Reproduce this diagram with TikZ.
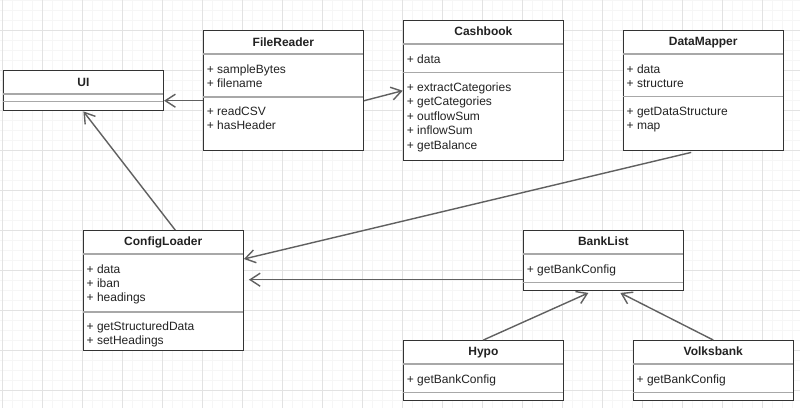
\documentclass[tikz,border=0pt]{standalone}
\usepackage{fontspec}
\setmainfont{Liberation Sans}
\usetikzlibrary{arrows.meta, calc}

\definecolor{gridminor}{HTML}{F6F6F6}
\definecolor{gridmajor}{HTML}{E2E2E2}
\definecolor{linkgray}{HTML}{606060}
\definecolor{sepgray}{HTML}{A8A8A8}
\definecolor{inkgray}{HTML}{222222}

\begin{document}
\begin{tikzpicture}[x=1pt, y=-1pt, >={Straight Barb[length=10pt,width=13pt]},
    classbox/.style={draw=black!80, line width=1.4pt, fill=white, minimum width=160pt, inner sep=0pt, anchor=north west},
    classname/.style={font=\bfseries\fontsize{12}{14}\selectfont, text=inkgray, anchor=base, inner sep=0pt},
    member/.style={font=\fontsize{12}{14}\selectfont, text=inkgray, anchor=base west, inner sep=0pt},
    divider/.style={draw=sepgray, line width=1.3pt, shorten <=0.7pt, shorten >=0.7pt},
    link/.style={->, draw=linkgray, line width=1.4pt}]
    % Canvas and grid
    \useasboundingbox[fill=white] (0,0) rectangle (800,408);
    \foreach \gx in {2.7,12.7,...,800} \draw[gridminor, line width=0.6pt] (\gx,0) -- (\gx,408);
    \foreach \gy in {0,10,...,408} \draw[gridminor, line width=0.6pt] (0,\gy) -- (800,\gy);
    \foreach \gx in {2.7,42.7,...,800} \draw[gridmajor, line width=0.7pt] (\gx,0) -- (\gx,408);
    \foreach \gy in {30,70,...,408} \draw[gridmajor, line width=0.7pt] (0,\gy) -- (800,\gy);

    % UI
    \node[classbox, minimum height=40pt] (ui) at (2.7,70) {};
    \node[classname] (ui-t) at ($(ui.north)+(0,16)$) {UI};
    \draw[divider] ($(ui.north west)+(0,24)$) -- ($(ui.north east)+(0,24)$);
    \draw[divider] ($(ui.north west)+(0,31.7)$) -- ($(ui.north east)+(0,31.7)$);

    % FileReader
    \node[classbox, minimum height=120pt] (fr) at (202.7,30) {};
    \node[classname] (fr-t) at ($(fr.north)+(0,16)$) {FileReader};
    \draw[divider] ($(fr.north west)+(0,24)$) -- ($(fr.north east)+(0,24)$);
    \foreach \m [count=\i] in {sampleBytes, filename}
        \node[member] (fr-a\i) at ($(fr.north west)+(4,{43+14.3*(\i-1)})$) {+ \m};
    \draw[divider] ($(fr.north west)+(0,67)$) -- ($(fr.north east)+(0,67)$);
    \foreach \m [count=\i] in {readCSV, hasHeader}
        \node[member] (fr-o\i) at ($(fr.north west)+(4,{85.5+14.3*(\i-1)})$) {+ \m};

    % Cashbook
    \node[classbox, minimum height=140pt] (cb) at (402.7,20) {};
    \node[classname] (cb-t) at ($(cb.north)+(0,15)$) {Cashbook};
    \draw[divider] ($(cb.north west)+(0,24)$) -- ($(cb.north east)+(0,24)$);
    \node[member] (cb-a1) at ($(cb.north west)+(4,43)$) {+ data};
    \draw[divider] ($(cb.north west)+(0,52.7)$) -- ($(cb.north east)+(0,52.7)$);
    \foreach \m [count=\i] in {extractCategories, getCategories, outflowSum, inflowSum, getBalance}
        \node[member] (cb-o\i) at ($(cb.north west)+(4,{71+14.5*(\i-1)})$) {+ \m};

    % DataMapper
    \node[classbox, minimum height=120pt] (dm) at (622.5,30) {};
    \node[classname] (dm-t) at ($(dm.north)+(0,15)$) {DataMapper};
    \draw[divider] ($(dm.north west)+(0,24)$) -- ($(dm.north east)+(0,24)$);
    \foreach \m [count=\i] in {data, structure}
        \node[member] (dm-a\i) at ($(dm.north west)+(4,{43+14.3*(\i-1)})$) {+ \m};
    \draw[divider] ($(dm.north west)+(0,66.3)$) -- ($(dm.north east)+(0,66.3)$);
    \foreach \m [count=\i] in {getDataStructure, map}
        \node[member] (dm-o\i) at ($(dm.north west)+(4,{85.5+14.3*(\i-1)})$) {+ \m};

    % ConfigLoader
    \node[classbox, minimum height=120pt] (cl) at (82.5,230) {};
    \node[classname] (cl-t) at ($(cl.north)+(0,15)$) {ConfigLoader};
    \draw[divider] ($(cl.north west)+(0,24)$) -- ($(cl.north east)+(0,24)$);
    \foreach \m [count=\i] in {data, iban, headings}
        \node[member] (cl-a\i) at ($(cl.north west)+(4,{43+14*(\i-1)})$) {+ \m};
    \draw[divider] ($(cl.north west)+(0,82)$) -- ($(cl.north east)+(0,82)$);
    \foreach \m [count=\i] in {getStructuredData, setHeadings}
        \node[member] (cl-o\i) at ($(cl.north west)+(4,{100.5+14*(\i-1)})$) {+ \m};

    % BankList and the banks
    \node[classbox, minimum height=60pt] (bl) at (522.7,230) {};
    \node[classname] (bl-t) at ($(bl.north)+(0,15)$) {BankList};
    \node[classbox, minimum height=60pt] (hy) at (402.7,340) {};
    \node[classname] (hy-t) at ($(hy.north)+(0,15)$) {Hypo};
    \node[classbox, minimum height=60pt] (vb) at (632.5,340) {};
    \node[classname] (vb-t) at ($(vb.north)+(0,15)$) {Volksbank};
    \foreach \b in {bl, hy, vb} {
        \draw[divider] ($(\b.north west)+(0,24)$) -- ($(\b.north east)+(0,24)$);
        \node[member] (\b-o1) at ($(\b.north west)+(4,43.3)$) {+ getBankConfig};
        \draw[divider] ($(\b.north west)+(0,52.7)$) -- ($(\b.north east)+(0,52.7)$);
    }

    % Associations
    \draw[link] ($(fr.west)+(0,10)$) -- ($(ui.east)+(0,10)$);
    \draw[link] ($(fr.east)+(0,10)$) -- (cb.west);
    \draw[link] ($(cl.north)+(12,0)$) -- (ui.south);
    \draw[link] ($(dm.south)+(-12,1)$) -- ($(cl.north east)+(0,29)$);
    \draw[link] ($(bl.west)+(0,19)$) -- ($(cl.east)+(5,-11)$);
    \draw[link] (hy.north) -- ($(bl.south)+(-15,1.5)$);
    \draw[link] (vb.north) -- ($(bl.south)+(17,1.5)$);
\end{tikzpicture}
\end{document}
